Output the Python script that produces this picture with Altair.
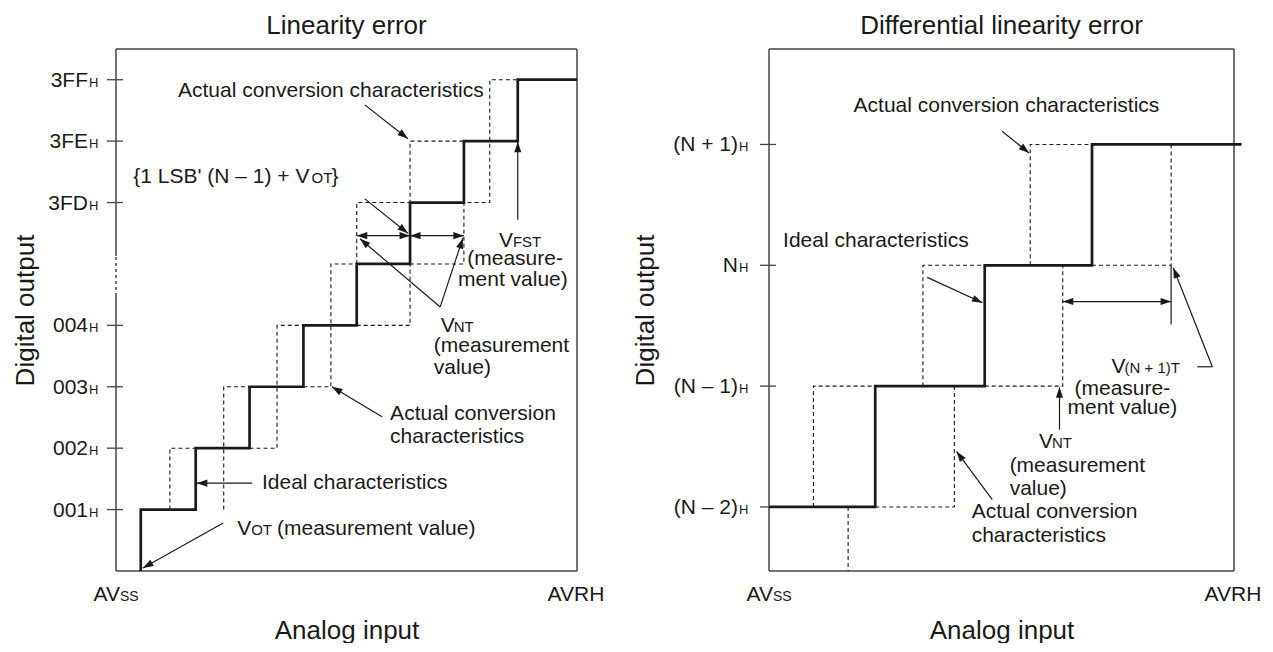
import math
import altair as alt
import pandas as pd

FONT = "Liberation Sans"
INK = "#1a1a1a"
FRAME = "#444444"
HEAD = "M0,0L0.34,1L-0.34,1Z"

# ---------------- Left panel: Linearity error ----------------
L_XDOM = [0.0, 8.56]
L_YDOM = [0.0, 8.5]
L_W, L_H = 461, 522
left_steps = [0.46, 1.48, 2.48, 3.48, 4.47, 5.46, 6.46, 7.46]
left_start = None
left_end = 8.56
left_tick_levels = [1, 2, 3, 4, 6, 7, 8]
left_tick_labels = ["001", "002", "003", "004", "3FD", "3FE", "3FF"]
left_break = [4.48, 5.13]
left_actual_x = [
    [1.0, 1.0, 1.48],
    [2.0, 2.0, 2.48],
    [2.48, 2.99, 2.99, 3.48],
    [3.48, 3.99, 3.99, 4.47],
    [4.47, 5.46, 5.46, 6.46],
    [4.47, 4.47, 5.46],
    [5.46, 6.46, 6.46, 6.94, 6.94, 7.46],
]
left_actual_y = [
    [1, 2, 2],
    [1, 3, 3],
    [2, 2, 4, 4],
    [3, 3, 5, 5],
    [4, 4, 7, 7],
    [5, 6, 6],
    [5, 5, 6, 6, 8, 8],
]
# x1, y1, x2, y2, head at start, head at end
left_arrows = [
    (4.62, 7.59, 5.42, 7.04, 0, 1),
    (4.62, 6.06, 5.42, 5.50, 0, 1),
    (4.47, 5.46, 5.46, 5.46, 1, 1),
    (5.46, 5.46, 6.46, 5.46, 1, 1),
    (6.02, 4.30, 4.53, 5.41, 0, 1),
    (6.02, 4.30, 6.44, 5.42, 0, 1),
    (7.46, 5.72, 7.46, 6.99, 0, 1),
    (4.94, 2.51, 4.01, 3.00, 0, 1),
    (2.53, 1.43, 1.50, 1.43, 0, 1),
    (1.99, 0.78, 0.50, 0.05, 0, 1),
]
left_text = [
    ("Actual conversion characteristics", 1.15, 7.72, 21, "left"),
    ("{1 LSB' (N \u2013 1) + V", 0.32, 6.32, 21, "left"),
    ("OT", 3.63, 6.32, 15, "left"),
    ("}", 4.00, 6.32, 21, "left"),
    ("V", 7.11, 5.28, 21, "left"),
    ("FST", 7.37, 5.28, 15, "left"),
    ("(measure-", 7.41, 4.98, 21, "center"),
    ("ment value)", 7.37, 4.64, 21, "center"),
    ("V", 6.03, 3.89, 21, "left"),
    ("NT", 6.27, 3.89, 15, "left"),
    ("(measurement", 5.90, 3.57, 21, "left"),
    ("value)", 5.90, 3.21, 21, "left"),
    ("Actual conversion", 5.09, 2.46, 21, "left"),
    ("characteristics", 5.09, 2.08, 21, "left"),
    ("Ideal characteristics", 2.71, 1.33, 21, "left"),
    ("V", 2.25, 0.59, 21, "left"),
    ("OT", 2.51, 0.59, 15, "left"),
    ("(measurement value)", 2.99, 0.59, 21, "left"),
]

# ---------------- Right panel: Differential linearity error ----------------
R_XDOM = [0.0, 4.29]
R_YDOM = [-0.53, 3.79]
R_W, R_H = 465, 522
right_steps = [0.98, 1.99, 2.98]
right_start = 0.0
right_end = 4.36
right_tick_levels = [0, 1, 2, 3]
right_tick_labels = ["(N \u2013 2)", "(N \u2013 1)", "N", "(N + 1)"]
right_actual_x = [
    [0.41, 0.41, 0.98],
    [0.98, 1.71, 1.71],
    [0.73, 0.73],
    [1.42, 1.42, 1.99],
    [1.99, 2.71, 2.71],
    [2.41, 2.41, 2.98],
    [2.98, 3.71, 3.71],
]
right_actual_y = [
    [0, 1, 1],
    [0, 0, 1],
    [0, -0.53],
    [1, 2, 2],
    [1, 1, 2],
    [2, 3, 3],
    [2, 2, 3],
]
right_arrows = [
    (2.15, 3.11, 2.40, 2.93, 0, 1),
    (1.46, 1.90, 1.97, 1.69, 0, 1),
    (2.71, 1.70, 3.71, 1.70, 1, 1),
    (4.09, 1.16, 3.73, 1.98, 0, 1),
    (3.95, 1.16, 4.09, 1.16, 0, 0),
    (3.71, 2.00, 3.71, 1.51, 0, 0),
    (2.68, 0.64, 2.68, 0.99, 0, 1),
    (2.06, 0.06, 1.73, 0.46, 0, 1),
]
right_text = [
    ("Actual conversion characteristics", 0.78, 3.27, 21, "left"),
    ("Ideal characteristics", 0.13, 2.15, 21, "left"),
    ("V", 3.16, 1.11, 21, "left"),
    ("(N + 1)T", 3.28, 1.11, 15, "left"),
    ("(measure-", 3.26, 0.93, 21, "center"),
    ("ment value)", 3.26, 0.77, 21, "center"),
    ("V", 2.49, 0.49, 21, "left"),
    ("NT", 2.61, 0.49, 15, "left"),
    ("(measurement", 2.22, 0.29, 21, "left"),
    ("value)", 2.22, 0.10, 21, "left"),
    ("Actual conversion", 1.87, -0.09, 21, "left"),
    ("characteristics", 1.87, -0.29, 21, "left"),
]


def stair(steps, start_x, end_x):
    pts = []
    if start_x is not None:
        pts.append((start_x, 0))
    for i, s in enumerate(steps):
        pts.append((s, i))
        pts.append((s, i + 1))
    pts.append((end_x, len(steps)))
    return pd.DataFrame({"x": [p[0] for p in pts], "y": [p[1] for p in pts], "i": list(range(len(pts)))})


def paths_df(xs, ys):
    rows = []
    for k, (px, py) in enumerate(zip(xs, ys)):
        for i, (a, b) in enumerate(zip(px, py)):
            rows.append({"x": a, "y": b, "path": k, "i": i})
    return pd.DataFrame(rows)


def angle(x1, y1, x2, y2, sx, sy):
    return math.degrees(math.atan2((x2 - x1) * sx, (y2 - y1) * sy)) % 360


def panel(title, xdom, ydom, W, H, steps, start_x, end_x, ax, ay, arrows, texts,
          tick_levels, tick_labels, label_dx, ytitle_x, brk=None):
    sx = W / (xdom[1] - xdom[0])
    sy = H / (ydom[1] - ydom[0])
    xaxis = alt.Axis(title="Analog input", labels=False, ticks=False, domain=False, grid=False,
                     titleFont=FONT, titleFontSize=26, titleFontWeight="normal", titleColor=INK,
                     titleX=W / 2, titleY=67, titleBaseline="alphabetic", titleAlign="center")
    yaxis = alt.Axis(title="Digital output", labels=False, ticks=False, domain=False, grid=False,
                     titleFont=FONT, titleFontSize=26, titleFontWeight="normal", titleColor=INK,
                     titleAngle=270, titleX=ytitle_x, titleY=H / 2, titleBaseline="alphabetic",
                     titleAlign="center")
    xs = alt.Scale(domain=xdom, nice=False, zero=False)
    ys = alt.Scale(domain=ydom, nice=False, zero=False)

    def X(f):
        return alt.X(f, type="quantitative", scale=xs, axis=xaxis)

    def Y(f):
        return alt.Y(f, type="quantitative", scale=ys, axis=yaxis)

    x0, x1 = xdom
    y0, y1 = ydom
    frame = [(x0, y1, x1, y1), (x0, y0, x1, y0), (x1, y0, x1, y1)]
    dashed_frame = []
    if brk:
        frame += [(x0, y0, x0, brk[0]), (x0, brk[1], x0, y1)]
        dashed_frame.append((x0, brk[0], x0, brk[1]))
    else:
        frame.append((x0, y0, x0, y1))
    fr = pd.DataFrame(frame, columns=["x1", "y1", "x2", "y2"])
    layers = [
        alt.Chart(fr).mark_rule(color=FRAME, strokeWidth=1.5).encode(
            x=X("x1"), y=Y("y1"), x2="x2", y2="y2")
    ]
    if dashed_frame:
        dfr = pd.DataFrame(dashed_frame, columns=["x1", "y1", "x2", "y2"])
        layers.append(alt.Chart(dfr).mark_rule(color=FRAME, strokeWidth=1.5, strokeDash=[3, 3]).encode(
            x=X("x1"), y=Y("y1"), x2="x2", y2="y2"))

    ttl = pd.DataFrame({"x": [(x0 + x1) / 2], "y": [y1], "text": [title]})
    layers.append(alt.Chart(ttl).mark_text(align="center", baseline="alphabetic", dy=-15,
                                           font=FONT, fontSize=26, color=INK).encode(
        x=X("x"), y=Y("y"), text="text:N"))

    tk = pd.DataFrame({"x": [x0] * len(tick_levels), "y": tick_levels, "label": tick_labels,
                       "sub": ["H"] * len(tick_levels)})
    layers.append(alt.Chart(tk).mark_rule(color=FRAME, strokeWidth=1.3, xOffset=-9, x2Offset=7).encode(
        x=X("x"), x2="x", y=Y("y")))
    layers.append(alt.Chart(tk).mark_text(align="right", baseline="alphabetic", dx=label_dx, dy=7,
                                          font=FONT, fontSize=21, color=INK).encode(
        x=X("x"), y=Y("y"), text="label:N"))
    layers.append(alt.Chart(tk).mark_text(align="left", baseline="alphabetic", dx=label_dx + 1, dy=7,
                                          font=FONT, fontSize=13, color=INK).encode(
        x=X("x"), y=Y("y"), text="sub:N"))

    xl = pd.DataFrame({"x": [x0], "y": [y0], "main": ["AV"], "sub": ["SS"]})
    xr = pd.DataFrame({"x": [x1], "y": [y0], "main": ["AVRH"]})
    layers.append(alt.Chart(xl).mark_text(align="right", baseline="alphabetic", dx=4, dy=30,
                                          font=FONT, fontSize=21, color=INK).encode(
        x=X("x"), y=Y("y"), text="main:N"))
    layers.append(alt.Chart(xl).mark_text(align="left", baseline="alphabetic", dx=4, dy=30,
                                          font=FONT, fontSize=14, color=INK).encode(
        x=X("x"), y=Y("y"), text="sub:N"))
    layers.append(alt.Chart(xr).mark_text(align="center", baseline="alphabetic", dx=-1, dy=30,
                                          font=FONT, fontSize=21, color=INK).encode(
        x=X("x"), y=Y("y"), text="main:N"))

    act = paths_df(ax, ay)
    layers.append(alt.Chart(act).mark_line(color=INK, strokeWidth=1.1, strokeDash=[4, 3]).encode(
        x=X("x"), y=Y("y"), detail="path:N", order="i:Q"))
    ideal = stair(steps, start_x, end_x)
    layers.append(alt.Chart(ideal).mark_line(color=INK, strokeWidth=2.7, strokeJoin="miter",
                                             strokeCap="butt").encode(
        x=X("x"), y=Y("y"), order="i:Q"))

    ar = pd.DataFrame([a[:4] for a in arrows], columns=["x1", "y1", "x2", "y2"])
    layers.append(alt.Chart(ar).mark_rule(color=INK, strokeWidth=1.2).encode(
        x=X("x1"), y=Y("y1"), x2="x2", y2="y2"))
    hrows = []
    for (a1, b1, a2, b2, hs, he) in arrows:
        if he:
            hrows.append({"x": a2, "y": b2, "angle": angle(a1, b1, a2, b2, sx, sy)})
        if hs:
            hrows.append({"x": a1, "y": b1, "angle": angle(a2, b2, a1, b1, sx, sy)})
    hd = pd.DataFrame(hrows)
    layers.append(alt.Chart(hd).mark_point(shape=HEAD, filled=True, size=441, opacity=1,
                                           color=INK, strokeWidth=0).encode(
        x=X("x"), y=Y("y"), angle=alt.Angle("angle:Q", scale=None)))

    tx = pd.DataFrame(texts, columns=["text", "x", "y", "size", "align"])
    for al in ["left", "center"]:
        sub = tx[tx["align"] == al]
        if len(sub):
            layers.append(alt.Chart(sub).mark_text(align=al, baseline="alphabetic", font=FONT,
                                                   color=INK).encode(
                x=X("x"), y=Y("y"), text="text:N", size=alt.Size("size:Q", scale=None)))

    return alt.layer(*layers).properties(width=W, height=H)


left = panel("Linearity error", L_XDOM, L_YDOM, L_W, L_H, left_steps, left_start, left_end,
             left_actual_x, left_actual_y, left_arrows, left_text,
             left_tick_levels, left_tick_labels, -28, -83, brk=left_break)
right = panel("Differential linearity error", R_XDOM, R_YDOM, R_W, R_H, right_steps, right_start,
              right_end, right_actual_x, right_actual_y, right_arrows, right_text,
              right_tick_levels, right_tick_labels, -31, -116)

chart = alt.hconcat(left, right, spacing=192, bounds="flush",
                    padding={"left": 4, "top": 5, "right": 0, "bottom": 0}).configure_view(stroke=None)

chart.save("out.html", embed_options={"renderer": "svg", "actions": False})
